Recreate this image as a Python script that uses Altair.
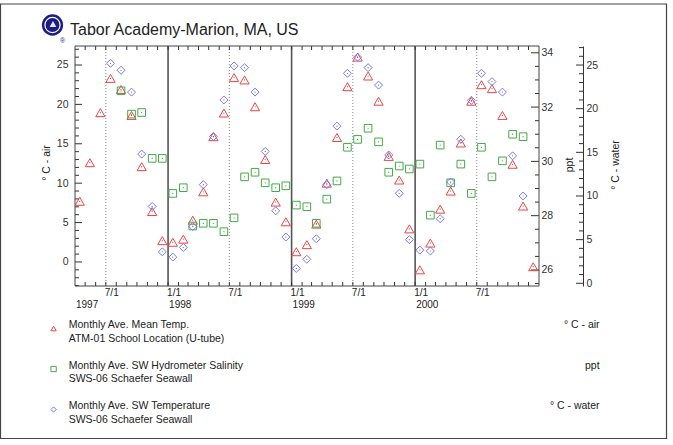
import altair as alt
import pandas as pd

FONT = "Liberation Sans, Arial, Helvetica, sans-serif"
INK = "#222222"
AXIS_INK = "#333333"
RED = "#ee4444"
GREEN = "#44aa44"
BLUE = "#7777ee"

# Plot area size in pixels (page padding puts it at x=75, y=46)
W, H = 464, 240

# Monthly averages, April 1997 - December 2000, plotted at mid-month
month_starts = pd.date_range("1997-04-01", "2000-12-01", freq="MS")
mid_month = month_starts + pd.Timedelta(days=14)

# ATM-01 monthly mean air temperature (deg C)
air_temp = [7.7, 12.6, 18.95, 23.3, 21.9, 18.6, 12.1, 6.4, 2.7,
            2.5, 2.9, 5.3, 8.9, 15.9, 18.9, 23.4, 23.1, 19.7, 13.0, 7.6, 5.1,
            1.3, 2.2, 4.8, 10.0, 15.8, 22.25, 26.0, 23.6, 20.4, 13.4, 10.4, 4.2,
            -1.0, 2.4, 6.7, 9.0, 15.1, 20.4, 22.5, 22.0, 18.6, 12.4, 7.1, -0.6]

# SWS-06 hydrometer salinity (ppt)
salinity = [None, None, None, None, 32.6, 31.74, 31.8, 30.11, 30.11,
            28.82, 29.03, 27.62, 27.72, 27.72, 27.41, 27.92, 29.43, 29.6, 29.21, 29.03, 29.1,
            28.39, 28.33, 27.72, 28.61, 29.28, 30.52, 30.81, 31.22, 30.72, 29.6, 29.83, 29.72,
            29.9, 28.02, 30.6, 29.21, 29.9, 28.82, 30.52, 29.43, 30.02, 31.0, 30.91, None]

# SWS-06 seawater temperature (deg C)
water_temp = [None, None, None, 25.2, 24.4, 21.9, 14.8, 8.8, 3.6,
              3.0, 4.1, 6.5, 11.3, 16.8, 21.0, 24.9, 24.7, 21.9, 15.1, 8.3, 5.3,
              1.7, 2.75, 5.1, 11.3, 18.0, 24.05, 25.9, 24.7, 22.7, 14.7, 10.3, 5.0,
              3.8, 3.7, 7.4, 11.6, 16.5, 20.95, 24.05, 23.1, 21.9, 14.6, 10.0, None]

# Axis tick values
air_major = [0, 5, 10, 15, 20, 25]
air_minor = [v for v in range(-3, 28) if v % 5 != 0]
sal_major = [26, 28, 30, 32, 34]
sal_minor = [25.5, 26.5, 27, 27.5, 28.5, 29, 29.5, 30.5, 31, 31.5, 32.5, 33, 33.5]
water_major = [0, 5, 10, 15, 20, 25]
water_minor = [v for v in range(0, 28) if v % 5 != 0]

year_starts = ["1998-01-01", "1999-01-01", "2000-01-01"]
mid_years = ["1997-07-01", "1998-07-01", "1999-07-01", "2000-07-01"]
tick_months = [d.strftime("%Y-%m-%d") for d in month_starts[1:]]

date_labels = mid_years + year_starts
date_label_text = ["7/1"] * 4 + ["1/1"] * 3
year_label_dates = ["1997-04-01"] + year_starts
year_label_text = ["1997", "1998", "1999", "2000"]

df = pd.DataFrame({"date": mid_month, "air": air_temp, "sal": salinity, "water": water_temp})

x_scale = alt.Scale(domain=[alt.DateTime(year=1997, month=4, date=1),
                            alt.DateTime(year=2001, month=1, date=1)], nice=False)
air_scale = alt.Scale(domain=[-3.05, 27.41], nice=False, zero=False)
sal_scale = alt.Scale(domain=[25.41, 34.25], nice=False, zero=False)
water_scale = alt.Scale(domain=[-0.31, 27.18], nice=False, zero=False)

X = alt.X("date:T", scale=x_scale, axis=None)
one = pd.DataFrame({"k": [0]})


def label_axis(orient, values, pad, offset=0, domain=False):
    return alt.Axis(orient=orient, values=values, title=None, ticks=False, tickSize=0,
                    domain=domain, domainColor=AXIS_INK, domainWidth=1, grid=False,
                    labelFont=FONT, labelFontSize=10.5, labelColor=AXIS_INK,
                    labelPadding=pad, offset=offset)


def series(field, scale, shape, size, color, axis):
    pts = alt.Chart(df).mark_point(shape=shape, size=size, color=color, filled=False,
                                   strokeWidth=1, opacity=1).encode(
        x=X, y=alt.Y(f"{field}:Q", scale=scale, axis=axis))
    dots = alt.Chart(df).mark_point(shape="circle", size=1.5, color="#666666", filled=True,
                                    opacity=0.9).encode(
        x=X, y=alt.Y(f"{field}:Q", scale=scale, axis=None))
    return [pts, dots]


def ticks(values, scale, x0, x1):
    return alt.Chart(pd.DataFrame({"v": values})).mark_rule(color=AXIS_INK, strokeWidth=1).encode(
        y=alt.Y("v:Q", scale=scale, axis=None), x=alt.value(x0), x2=alt.value(x1))


def text(t, x, y, size=10.5, align="left", angle=0, baseline="alphabetic", color=INK):
    return alt.Chart(one).mark_text(text=t, font=FONT, fontSize=size, align=align,
                                    baseline=baseline, angle=angle, color=color).encode(
        x=alt.value(x), y=alt.value(y))


layers = []

# Year boundaries (solid) and mid-year markers (dotted)
layers.append(alt.Chart(pd.DataFrame({"d": year_starts})).mark_rule(
    color="#555555", strokeWidth=1.6).encode(
    x=alt.X("d:T", scale=x_scale, axis=None), y=alt.value(0), y2=alt.value(H)))
layers.append(alt.Chart(pd.DataFrame({"d": mid_years})).mark_rule(
    color="#888888", strokeWidth=1, strokeDash=[1, 2]).encode(
    x=alt.X("d:T", scale=x_scale, axis=None), y=alt.value(0), y2=alt.value(H)))

# Monthly ticks along top and bottom, pointing inward
months_df = pd.DataFrame({"d": tick_months})
for y0, y1 in [(0, 4), (H - 4, H)]:
    layers.append(alt.Chart(months_df).mark_rule(color=AXIS_INK, strokeWidth=1).encode(
        x=alt.X("d:T", scale=x_scale, axis=None), y=alt.value(y0), y2=alt.value(y1)))

# Inward ticks on the left (air), right (salinity) and outer (water) axes
layers += [ticks(air_major, air_scale, 0, 7), ticks(air_minor, air_scale, 0, 4),
           ticks(sal_major, sal_scale, W - 8, W), ticks(sal_minor, sal_scale, W - 4, W),
           ticks(water_major, water_scale, W + 44 - 7, W + 44),
           ticks(water_minor, water_scale, W + 44 - 4, W + 44)]

# Plot frame
layers.append(alt.Chart(one).mark_rect(fillOpacity=0, stroke="#444444", strokeWidth=1).encode(
    x=alt.value(0), x2=alt.value(W), y=alt.value(0), y2=alt.value(H)))

# Data series, each with its own y axis
layers += series("air", air_scale, "triangle-up", 85, RED,
                 label_axis("left", air_major, 7))
layers += series("sal", sal_scale, "square", 58, GREEN,
                 label_axis("right", sal_major, 2))
layers += series("water", water_scale, "diamond", 64, BLUE,
                 label_axis("right", water_major, 3, offset=44, domain=True))

# Date labels under the time axis
layers.append(alt.Chart(pd.DataFrame({"d": date_labels, "t": date_label_text})).mark_text(
    font=FONT, fontSize=10, align="left", baseline="alphabetic", dx=-1, color=INK).encode(
    x=alt.X("d:T", scale=x_scale, axis=None), y=alt.value(250), text="t:N"))
layers.append(alt.Chart(pd.DataFrame({"d": year_label_dates, "t": year_label_text})).mark_text(
    font=FONT, fontSize=10, align="left", baseline="alphabetic", dx=1, color=INK).encode(
    x=alt.X("d:T", scale=x_scale, axis=None), y=alt.value(261.5), text="t:N"))

# Axis titles
layers += [text("° C - air", -28.5, 117, angle=270, align="center", baseline="middle"),
           text("ppt", 495, 119, angle=270, align="center", baseline="middle"),
           text("° C - water", 541, 119, angle=270, align="center", baseline="middle")]

# Header: emblem and station name
layers.append(alt.Chart(one).mark_point(shape="circle", size=452, filled=True,
                                        color="#1c1c84", opacity=1).encode(
    x=alt.value(-22.5), y=alt.value(-21)))
layers.append(alt.Chart(one).mark_point(shape="circle", size=230, filled=False,
                                        color="#ffffff", strokeWidth=1.2, opacity=1).encode(
    x=alt.value(-22.5), y=alt.value(-21)))
layers.append(alt.Chart(one).mark_point(shape="triangle-up", size=45, filled=True,
                                        color="#ffffff", opacity=0.9).encode(
    x=alt.value(-22), y=alt.value(-22)))
layers.append(text("®", -12.5, -3.5, size=7, align="center", color="#1c1c84"))
layers.append(text("Tabor Academy-Marion, MA, US", -5, -11, size=16))

# Legend
legend = [("triangle-up", RED, "Monthly Ave. Mean Temp.", "ATM-01 School Location (U-tube)", "° C - air", 282),
          ("square", GREEN, "Monthly Ave. SW Hydrometer Salinity", "SWS-06 Schaefer Seawall", "ppt", 322.5),
          ("diamond", BLUE, "Monthly Ave. SW Temperature", "SWS-06 Schaefer Seawall", "° C - water", 363)]
for shape, color, line1, line2, unit, base in legend:
    layers.append(alt.Chart(one).mark_point(shape=shape, size=28, filled=False, color=color,
                                            strokeWidth=1, opacity=1).encode(
        x=alt.value(-21.4), y=alt.value(base + 0.5)))
    layers.append(text(line1, -6.3, base))
    layers.append(text(line2, -6.3, base + 13.5))
    layers.append(text(unit, 524.6, base, align="right"))

# Page border
layers.append(alt.Chart(one).mark_rect(fillOpacity=0, stroke="#444444", strokeWidth=1.2).encode(
    x=alt.value(-74.5), x2=alt.value(591.5), y=alt.value(-42), y2=alt.value(392.5)))

chart = alt.layer(*layers).resolve_scale(y="independent").properties(
    width=W, height=H,
    autosize=alt.AutoSizeParams(type="none"),
    padding={"left": 75, "top": 46, "right": 134, "bottom": 159},
    background="white",
).configure_view(strokeOpacity=0)

chart.save("out.html", embed_options={"renderer": "svg", "actions": False})
